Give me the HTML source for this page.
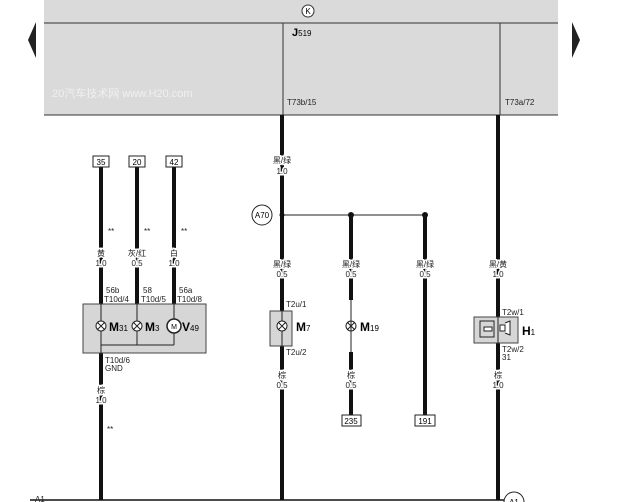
<!DOCTYPE html>
<html><head><meta charset="utf-8"><style>
body{margin:0;background:#fff;}
svg{display:block;font-family:"Liberation Sans","Noto Sans CJK SC",sans-serif;}
.s{font-size:8px;fill:#222;text-anchor:middle;stroke:#fff;stroke-width:3px;paint-order:stroke;}
.l{font-size:8px;fill:#222}
</style></head><body>
<svg width="620" height="502" viewBox="0 0 620 502">
<rect x="44" y="0" width="514" height="115" fill="#dadada"/>
<line x1="44" y1="23" x2="558" y2="23" stroke="#333" stroke-width="1"/>
<line x1="44" y1="115" x2="558" y2="115" stroke="#333" stroke-width="1"/>
<line x1="283" y1="23" x2="283" y2="115" stroke="#333" stroke-width="1"/>
<line x1="500" y1="23" x2="500" y2="115" stroke="#333" stroke-width="1"/>
<circle cx="308" cy="11" r="6" fill="#fff" stroke="#333"/>
<text x="308" y="14" style="font-size:8px;text-anchor:middle">K</text>
<text x="292" y="36" style="font-size:11px;font-weight:bold">J<tspan style="font-size:8px;font-weight:normal">519</tspan></text>
<text x="52" y="97" style="font-size:11px;fill:#fff;opacity:.6">20汽车技术网 www.H20.com</text>
<polygon points="36,22 36,58 28,40" fill="#222"/>
<polygon points="572,22 572,58 580,40" fill="#222"/>
<text x="287" y="105" class="l">T73b/15</text>
<text x="505" y="105" class="l">T73a/72</text>
<g stroke="#111" stroke-width="4">
<line x1="282" y1="115" x2="282" y2="500"/>
<line x1="498" y1="115" x2="498" y2="500"/>
<line x1="101" y1="167" x2="101" y2="500"/>
<line x1="137" y1="167" x2="137" y2="305"/>
<line x1="174" y1="167" x2="174" y2="305"/>
<line x1="351" y1="215" x2="351" y2="300"/>
<line x1="351" y1="352" x2="351" y2="415"/>
<line x1="425" y1="215" x2="425" y2="415"/>
</g>
<line x1="30" y1="500" x2="505" y2="500" stroke="#111" stroke-width="1.5"/>
<text x="35" y="502" class="l">A1</text>
<circle cx="514" cy="502" r="10" fill="#fff" stroke="#222"/>
<text x="514" y="505" style="font-size:8px;text-anchor:middle">A1</text>
<g fill="#fff" stroke="#222">
<rect x="93" y="156" width="16" height="11"/><rect x="129" y="156" width="16" height="11"/><rect x="166" y="156" width="16" height="11"/>
<rect x="342" y="415" width="19" height="11"/><rect x="415" y="415" width="20" height="11"/>
</g>
<text x="101" y="165" style="font-size:8px;text-anchor:middle">35</text><text x="137" y="165" style="font-size:8px;text-anchor:middle">20</text><text x="174" y="165" style="font-size:8px;text-anchor:middle">42</text>
<text x="351" y="424" style="font-size:8px;text-anchor:middle">235</text><text x="425" y="424" style="font-size:8px;text-anchor:middle">191</text>
<text x="108" y="234" class="l">**</text><text x="144" y="234" class="l">**</text><text x="181" y="234" class="l">**</text>
<text x="107" y="432" class="l">**</text>
<text x="101" y="256" class="s">黄</text><text x="101" y="266" class="s">1.0</text>
<text x="137" y="256" class="s">灰/红</text><text x="137" y="266" class="s">0.5</text>
<text x="174" y="256" class="s">白</text><text x="174" y="266" class="s">1.0</text>
<text x="106" y="293" class="l">56b</text><text x="104" y="302" class="l">T10d/4</text>
<text x="143" y="293" class="l">58</text><text x="141" y="302" class="l">T10d/5</text>
<text x="179" y="293" class="l">56a</text><text x="177" y="302" class="l">T10d/8</text>
<rect x="83" y="304" width="123" height="49" fill="#d6d6d6" stroke="#444"/>
<g stroke="#222" fill="none" stroke-width="1">
<line x1="101" y1="304" x2="101" y2="353"/><line x1="137" y1="304" x2="137" y2="345"/><line x1="174" y1="304" x2="174" y2="345"/>
<line x1="101" y1="345" x2="174" y2="345"/>
<circle cx="101" cy="326" r="5" fill="#fff"/><path d="M97.5 322.5l7 7M104.5 322.5l-7 7"/>
<circle cx="137" cy="326" r="5" fill="#fff"/><path d="M133.5 322.5l7 7M140.5 322.5l-7 7"/>
<circle cx="174" cy="326" r="7" fill="#fff" stroke-width="1.5"/>
<circle cx="351" cy="326" r="5" fill="#fff"/><path d="M347.5 322.5l7 7M354.5 322.5l-7 7"/>
<line x1="351" y1="300" x2="351" y2="352"/>
</g>
<text x="174" y="329" style="font-size:7px;text-anchor:middle">M</text>
<text x="109" y="331" style="font-size:12px;font-weight:bold">M<tspan style="font-size:8px;font-weight:normal">31</tspan></text>
<text x="145" y="331" style="font-size:12px;font-weight:bold">M<tspan style="font-size:8px;font-weight:normal">3</tspan></text>
<text x="182" y="331" style="font-size:12px;font-weight:bold">V<tspan style="font-size:8px;font-weight:normal">49</tspan></text>
<text x="105" y="363" class="l">T10d/6</text><text x="105" y="371" class="l">GND</text>
<text x="101" y="393" class="s">棕</text><text x="101" y="403" class="s">1.0</text>
<text x="282" y="163" class="s">黑/绿</text><text x="282" y="174" class="s">1.0</text>
<line x1="282" y1="215" x2="425" y2="215" stroke="#222"/>
<circle cx="282" cy="215" r="2.5" fill="#111"/><circle cx="351" cy="215" r="3" fill="#111"/><circle cx="425" cy="215" r="3" fill="#111"/>
<circle cx="262" cy="215" r="10" fill="#fff" stroke="#222"/><text x="262" y="218" style="font-size:8px;text-anchor:middle">A70</text>
<text x="282" y="267" class="s">黑/绿</text><text x="282" y="277" class="s">0.5</text>
<text x="351" y="267" class="s">黑/绿</text><text x="351" y="277" class="s">0.5</text>
<text x="425" y="267" class="s">黑/绿</text><text x="425" y="277" class="s">0.5</text>
<text x="286" y="307" class="l">T2u/1</text><text x="286" y="355" class="l">T2u/2</text>
<rect x="270" y="311" width="22" height="35" fill="#d6d6d6" stroke="#444"/>
<line x1="282" y1="311" x2="282" y2="346" stroke="#222"/>
<circle cx="282" cy="326" r="5" fill="#fff" stroke="#222"/><path d="M278.5 322.5l7 7M285.5 322.5l-7 7" stroke="#222"/>
<text x="296" y="331" style="font-size:12px;font-weight:bold">M<tspan style="font-size:8px;font-weight:normal">7</tspan></text>
<text x="360" y="331" style="font-size:12px;font-weight:bold">M<tspan style="font-size:8px;font-weight:normal">19</tspan></text>
<text x="282" y="378" class="s">棕</text><text x="282" y="388" class="s">0.5</text>
<text x="351" y="378" class="s">棕</text><text x="351" y="388" class="s">0.5</text>
<text x="498" y="267" class="s">黑/黄</text><text x="498" y="277" class="s">1.0</text>
<text x="502" y="315" class="l">T2w/1</text>
<rect x="474" y="317" width="44" height="26" fill="#d6d6d6" stroke="#444"/>
<rect x="480" y="321" width="14" height="16" fill="none" stroke="#222"/>
<path d="M484 327h8v4h-8zM500 325h5v6h-5zM505 323l5 -2v14l-5-2" fill="#fff" stroke="#222"/>
<line x1="498" y1="317" x2="498" y2="343" stroke="#222"/>
<text x="522" y="335" style="font-size:12px;font-weight:bold">H<tspan style="font-size:8px;font-weight:normal">1</tspan></text>
<text x="502" y="352" class="l">T2w/2</text><text x="502" y="360" class="l">31</text>
<text x="498" y="378" class="s">棕</text><text x="498" y="388" class="s">1.0</text>
</svg>
</body></html>
